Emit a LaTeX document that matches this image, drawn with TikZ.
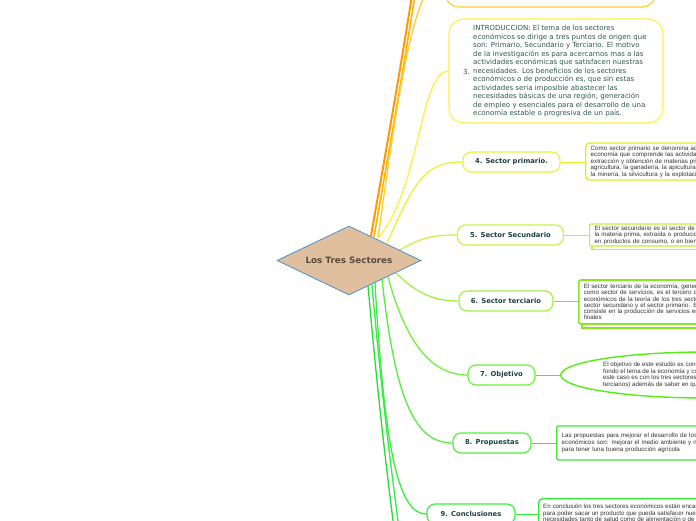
\documentclass[tikz,border=0pt]{standalone}
\usepackage{fontspec}
\setmainfont{DejaVu Sans}
\newfontfamily\detfont{Liberation Sans}
\usetikzlibrary{shapes.geometric,calc,backgrounds}
\definecolor{corA}{HTML}{FF9900}
\definecolor{corB}{HTML}{FFB400}
\definecolor{ctop}{HTML}{FFCC33}
\definecolor{cintro}{HTML}{FFEE44}
\definecolor{cprim}{HTML}{E2F53A}
\definecolor{csec}{HTML}{C8F545}
\definecolor{cter}{HTML}{A0F048}
\definecolor{cobj}{HTML}{70EE3A}
\definecolor{cprop}{HTML}{55EE40}
\definecolor{cconc}{HTML}{3CEE3C}
\definecolor{cbotA}{HTML}{22DD33}
\definecolor{cbotB}{HTML}{33EE44}
\definecolor{cprimd}{HTML}{DDF020}
\definecolor{csecd}{HTML}{BFF035}
\definecolor{cterd}{HTML}{88E620}
\definecolor{cobjd}{HTML}{55EE11}
\definecolor{cpropd}{HTML}{44E633}
\definecolor{cconcd}{HTML}{33EE33}
\definecolor{diafill}{HTML}{E0BF9F}
\definecolor{diaedge}{HTML}{4A90C8}
\definecolor{centertxt}{HTML}{5A4A3A}
\definecolor{topictxt}{HTML}{1E4040}
\definecolor{introtxt}{HTML}{2E5848}
\definecolor{dettxt}{HTML}{333333}
\begin{document}
\begin{tikzpicture}[x=1pt,y=-1pt,
 conn/.style={line width=1.3pt, line cap=round},
 link/.style={line width=0.9pt},
 topic/.style={draw=#1, line width=1.2pt, rounded corners=8pt, fill=white, minimum height=20pt, text=topictxt, font=\fontsize{6.8}{8}\selectfont\bfseries, inner sep=0pt},
 detail/.style={draw=#1, line width=1.4pt, rounded corners=3pt, fill=white, anchor=west, align=left, text width=230pt, inner xsep=5pt, inner ysep=2pt, text=dettxt, font=\detfont\fontsize{6.2}{6.5}\selectfont},
 dettext/.style={align=left, inner sep=0pt, text=dettxt, font=\detfont\fontsize{6.2}{6.8}\selectfont},
]
\useasboundingbox (0,0) rectangle (696,520);
\clip (0,0) rectangle (696,520);

% central node
\node[diamond, aspect=2.09, draw=diaedge, fill=diafill, line width=0.8pt, minimum width=144pt, minimum height=69pt, inner sep=0pt, font=\fontsize{8.8}{10}\selectfont\bfseries, text=centertxt] (center) at (349,260.5) {Los Tres Sectores};

% top (cut) box
\node[draw=ctop, line width=1.2pt, rounded corners=14pt, minimum width=211pt, minimum height=60pt, fill=white] (topbox) at (550.5,-23) {};

% intro box
\node[draw=cintro, line width=1.2pt, rounded corners=15pt, minimum width=214pt, minimum height=104pt, fill=white] (intro) at (556,71) {};
\node[anchor=west, align=left, font=\fontsize{7}{8.5}\selectfont, text=introtxt, inner sep=0pt] (introtext) at (473,71.5) {INTRODUCCION: El tema de los sectores\\
económicos se dirige a tres puntos de origen que\\
son:  Primario, Secundario y Terciario. El motivo\\
de la investigación es para acercarnos mas a las\\
actividades económicas que satisfacen nuestras\\
necesidades. Los beneficios de los sectores\\
económicos o de producción es, que sin estas\\
actividades seria imposible abastecer las\\
necesidades básicas de una región, generación\\
de empleo y esenciales para el desarrollo de una\\
economía estable o progresiva de un país.};
\node[anchor=east, font=\fontsize{7}{8.5}\selectfont, text=introtxt, inner sep=0pt] (introno) at ($(introtext.west)+(-3,0)$) {3.};

% topics
\node[topic=cprim, minimum width=97pt] (prim) at (511.5,162) {4. Sector primario.};
\node[topic=csec, minimum width=106pt] (sec) at (510.5,235) {5. Sector Secundario};
\node[topic=cter, minimum width=94pt] (ter) at (506,301) {6. Sector terciario};
\node[topic=cobj, minimum width=67pt] (obj) at (501.5,375) {7. Objetivo};
\node[topic=cprop, minimum width=78pt] (prop) at (492,443) {8. Propuestas};
\node[topic=cconc, minimum width=88pt] (conc) at (471,514) {9. Conclusiones};

% details
\node[detail=cprimd, minimum height=37pt, rounded corners=4pt] (primd) at (585,161.5) {Como sector primario se denomina aquella parte de la\\
economía que comprende las actividades de\\
extracción y obtención de materias primas, como la\\
agricultura, la ganadería, la apicultura, la pesca,\\
la minería, la silvicultura y la explotación forestal.};

\node[detail=csecd, minimum height=22pt, inner ysep=1pt, rounded corners=1pt, line width=1.2pt] (secd) at (589,235) {El sector secundario es el sector de la economía que transforma\\
la materia prima, extraída o producida por el sector primario,\\
en productos de consumo,  o en bienes de equipo.};

\node[detail=cterd, minimum height=44pt, rounded corners=2pt, line width=1.6pt, font=\detfont\fontsize{6.2}{6.2}\selectfont] (terd) at (578,302) {El sector terciario de la economía, generalmente conocido\\
como sector de servicios, es el tercero de los sectores\\
económicos de la teoría de los tres sectores, junto al\\
sector secundario y el sector primario. El sector terciario\\
consiste en la producción de servicios en lugar de productos\\
finales};

\node[ellipse, draw=cobjd, line width=1.4pt, fill=white, minimum width=290pt, minimum height=46pt, anchor=west, inner sep=0pt] (objd) at (560,375) {};
\node[dettext, anchor=west, font=\detfont\fontsize{6.2}{6.5}\selectfont] (objt) at (603,375) {El objetivo de este estudio es conocer a\\
fondo el tema de la economía  y conocer en\\
este caso es con los tres sectores (primarios, secundarios y\\
terciarios) además de saber en qué consiste cada uno.};

\node[detail=cpropd, minimum height=34pt, rounded corners=2pt, font=\detfont\fontsize{6.2}{7}\selectfont] (propd) at (556,443) {Las propuestas para mejorar el desarrollo de los sectores\\
económicos son:  mejorar el medio ambiente y no contaminar\\
para tener luna buena producción agrícola};

\node[draw=cconcd, line width=1.4pt, rounded corners=4pt, fill=white, anchor=north west, minimum width=240pt, minimum height=60pt] (concd) at (538,498) {};
\node[dettext, anchor=north west] (conct) at (543,503.5) {En conclusión los tres sectores económicos están encadenados\\
para poder sacar un producto que pueda satisfacer nuestras\\
necesidades tanto de salud como de alimentación o de vestido};

% free ends
\coordinate (upA) at (416,-30);
\coordinate (upB) at (419,-30);
\coordinate (downA) at (396,545);
\coordinate (downB) at (401,545);

\begin{scope}[on background layer]
\draw[cterd, line width=1.4pt] ($(terd.north west)+(4,3)$) rectangle ($(terd.south east)+(4,3)$);
\draw[csecd, line width=1.2pt] ($(secd.north west)+(3,3)$) rectangle ($(secd.south east)+(3,3)$);
% connectors from center
\draw[conn, corA, line width=2pt] ($(center)+(22,-25)$) .. controls (388,140) and (402,60) .. (upA);
\draw[conn, corB, line width=1.6pt] ($(center)+(25,-24)$) .. controls (391,140) and (405,60) .. (upB);
\draw[conn, ctop] ($(center)+(29,-22.5)$) .. controls (400,80) and (415,-23) .. (topbox.west);
\draw[conn, cintro] ($(center)+(29,-22.5)$) .. controls (420,190) and (420,71) .. (intro.west);
\draw[conn, cprim] ($(center)+(38,-17.5)$) .. controls (415,180) and (425,162) .. (prim.west);
\draw[conn, csec] ($(center)+(49,-9.5)$) .. controls (420,238) and (432,235) .. (sec.west);
\draw[conn, cter] ($(center)+(46,11.5)$) .. controls (415,292) and (432,301) .. (ter.west);
\draw[conn, cobj] ($(center)+(39,16.5)$) .. controls (405,340) and (430,375) .. (obj.west);
\draw[conn, cprop] ($(center)+(33,18.5)$) .. controls (395,400) and (415,443) .. (prop.west);
\draw[conn, cconc] ($(center)+(26,22.5)$) .. controls (385,460) and (400,514) .. (conc.west);
\draw[conn, cbotA] ($(center)+(19,25.5)$) .. controls (380,420) and (388,480) .. (downA);
\draw[conn, cbotB] ($(center)+(23,24.5)$) .. controls (384,420) and (393,480) .. (downB);
% links topic -> detail
\draw[link, cprimd] (prim.east) -- (prim.east -| primd.west);
\draw[link, csecd] (sec.east) -- (secd.west);
\draw[link, cterd] (ter.east) -- (ter.east -| terd.west);
\draw[link, cobjd] (obj.east) -- (objd.west);
\draw[link, cpropd] (prop.east) -- (propd.west);
\draw[link, cconcd] (conc.east) -- (conc.east -| concd.west);
\end{scope}
\end{tikzpicture}
\end{document}
